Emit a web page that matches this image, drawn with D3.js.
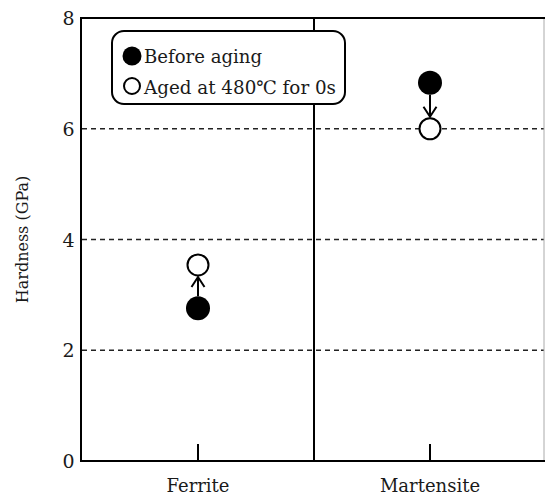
<!DOCTYPE html>
<html><head><meta charset="utf-8">
<script src="https://cdn.jsdelivr.net/npm/d3@7"></script>
<style>body{margin:0;background:#fff}svg{display:block}text{font-family:"DejaVu Serif",serif;fill:#1a1a1a}</style>
</head><body><svg id="c" width="545" height="496"></svg>
<script>
const categories = ["Ferrite", "Martensite"];
const beforeAging = [2.76, 6.83];
const agedValues = [3.54, 6.0];
const yTicks = [0, 2, 4, 6, 8];
const gridValues = [2, 4, 6];
const legendLabels = ["Before aging", "Aged at 480\u2103 for 0s"];

const svg = d3.select("#c");
const L = 81, R = 544, T = 18, B = 461;
const x = d3.scaleBand().domain(categories).range([82, 546]).padding(0);
const y = d3.scaleLinear().domain([0, 8]).range([B, T]);

svg.selectAll(".grid").data(gridValues).enter().append("line")
  .attr("x1", L + 1).attr("x2", R).attr("y1", d => y(d)).attr("y2", d => y(d))
  .attr("stroke", "#222").attr("stroke-width", 1.5).attr("stroke-dasharray", "5,4");

svg.append("line").attr("x1", R).attr("x2", R).attr("y1", T).attr("y2", B)
  .attr("stroke", "#aaa").attr("stroke-width", 1);
svg.append("line").attr("x1", L - 1).attr("x2", 545).attr("y1", T).attr("y2", T)
  .attr("stroke", "#000").attr("stroke-width", 2);
svg.append("line").attr("x1", L - 1).attr("x2", 545).attr("y1", B).attr("y2", B)
  .attr("stroke", "#000").attr("stroke-width", 2);
svg.append("line").attr("x1", L).attr("x2", L).attr("y1", T - 1).attr("y2", B + 1)
  .attr("stroke", "#000").attr("stroke-width", 2);
svg.append("line").attr("x1", x(categories[1])).attr("x2", x(categories[1]))
  .attr("y1", T).attr("y2", B).attr("stroke", "#000").attr("stroke-width", 2);

svg.selectAll(".xt").data(categories).enter().append("line")
  .attr("x1", d => x(d) + x.bandwidth() / 2).attr("x2", d => x(d) + x.bandwidth() / 2)
  .attr("y1", B - 17).attr("y2", B).attr("stroke", "#000").attr("stroke-width", 2);
svg.selectAll(".xl").data(categories).enter().append("text")
  .attr("x", d => x(d) + x.bandwidth() / 2).attr("y", 492)
  .attr("text-anchor", "middle").attr("font-size", 18).text(d => d);

svg.selectAll(".yl").data(yTicks).enter().append("text")
  .attr("x", 68.5).attr("y", d => y(d) + 7)
  .attr("text-anchor", "middle").attr("font-size", 19).text(d => d);

svg.append("text").attr("transform", `translate(28,${(T + B) / 2}) rotate(-90)`)
  .attr("text-anchor", "middle").attr("font-size", 16).text("Hardness (GPa)");

const cx = i => x(categories[i]) + x.bandwidth() / 2;
const r = 11;
categories.forEach((c, i) => {
  const y0 = y(beforeAging[i]), y1 = y(agedValues[i]);
  const dir = y1 < y0 ? -1 : 1;
  const start = y0 + dir * (r + 1), end = y1 - dir * (r + 1);
  svg.append("line").attr("x1", cx(i)).attr("x2", cx(i)).attr("y1", start).attr("y2", end)
    .attr("stroke", "#000").attr("stroke-width", 2);
  svg.append("path")
    .attr("d", `M${cx(i) - 6.5},${end - dir * 10} L${cx(i)},${end} L${cx(i) + 6.5},${end - dir * 10}`)
    .attr("fill", "none").attr("stroke", "#000").attr("stroke-width", 2);
});

svg.selectAll(".pb").data(beforeAging).enter().append("circle")
  .attr("cx", (d, i) => cx(i)).attr("cy", d => y(d)).attr("r", 12).attr("fill", "#000");
svg.selectAll(".pa").data(agedValues).enter().append("circle")
  .attr("cx", (d, i) => cx(i)).attr("cy", d => y(d)).attr("r", 10.5)
  .attr("fill", "#fff").attr("stroke", "#000").attr("stroke-width", 2);

const lg = svg.append("g");
lg.append("rect").attr("x", 112).attr("y", 31).attr("width", 233).attr("height", 73)
  .attr("rx", 12).attr("fill", "#fff").attr("stroke", "#000").attr("stroke-width", 2);
lg.append("circle").attr("cx", 132).attr("cy", 56).attr("r", 9.5).attr("fill", "#000");
lg.append("circle").attr("cx", 132).attr("cy", 86).attr("r", 8)
  .attr("fill", "#fff").attr("stroke", "#000").attr("stroke-width", 2);
lg.selectAll(".lt").data(legendLabels).enter().append("text")
  .attr("x", 144).attr("y", (d, i) => 63 + i * 31).attr("font-size", 18.5)
  .attr("textLength", (d, i) => i === 0 ? 118 : 192).attr("lengthAdjust", "spacingAndGlyphs")
  .text(d => d);
</script></body></html>
